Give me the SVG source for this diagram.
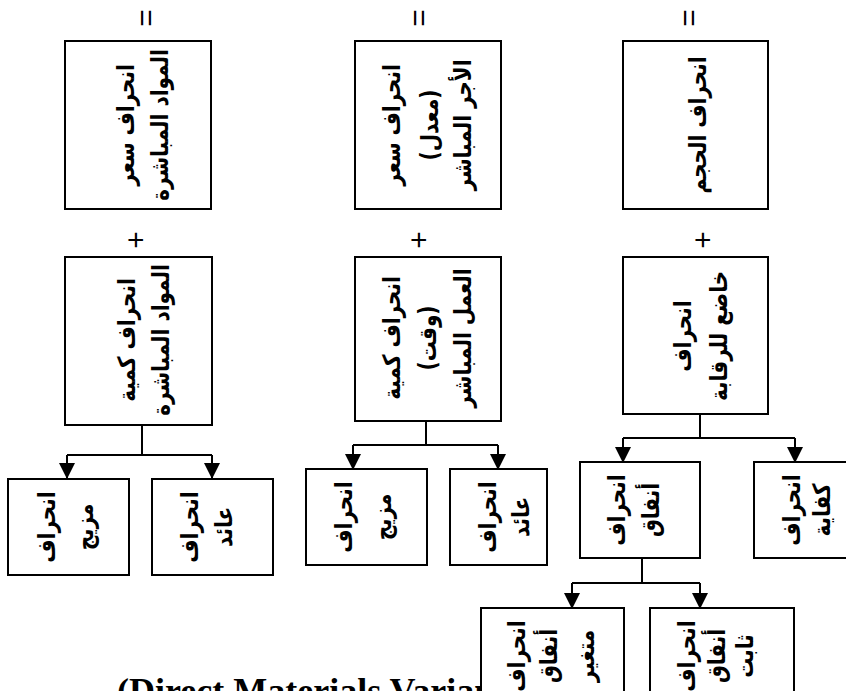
<svg xmlns="http://www.w3.org/2000/svg" width="846" height="691" viewBox="0 0 846 691">
  <style>
    .box { fill: #ffffff; stroke: #000000; stroke-width: 2; }
    .ar { font-family: "DejaVu Sans", sans-serif; font-weight: bold; font-size: 20px; text-anchor: middle; dominant-baseline: central; fill: #000000; }
    .op { font-family: "Liberation Sans", Arial, sans-serif; font-size: 30px; text-anchor: middle; dominant-baseline: central; fill: #000000; }
    .en { font-family: "Liberation Serif", "Times New Roman", serif; font-weight: bold; font-size: 36px; fill: #000000; }
    .conn { fill: none; stroke: #000000; stroke-width: 2; }
  </style>
  <defs>
    <marker id="arrow" markerUnits="userSpaceOnUse" markerWidth="16" markerHeight="16" viewBox="0 0 16 16" refX="8" refY="15" orient="0">
      <path d="M0,0 L16,0 L8,16 Z" fill="#000000"/>
    </marker>
  </defs>

  <rect width="846" height="691" fill="#ffffff"/>

  <!-- caption under the chart, partly covered by the lowest boxes -->
  <text class="en" x="117" y="703">(Direct Materials Variance)</text>

  <!-- equals / plus signs between rows -->
  <g id="operators">
    <text class="op" transform="translate(145,18) rotate(-90)">=</text>
    <text class="op" transform="translate(418,18) rotate(-90)">=</text>
    <text class="op" transform="translate(688,18) rotate(-90)">=</text>
    <text class="op" transform="translate(135,240) rotate(-90)">+</text>
    <text class="op" transform="translate(418,240) rotate(-90)">+</text>
    <text class="op" transform="translate(702,240) rotate(-90)">+</text>
  </g>

  <!-- connectors -->
  <g id="connectors">
    <path class="conn" d="M142,425 V455 M67,455 H212"/>
    <path class="conn" d="M67,455 V478" marker-end="url(#arrow)"/>
    <path class="conn" d="M212,455 V478" marker-end="url(#arrow)"/>

    <path class="conn" d="M426,421 V445 M353,445 H498"/>
    <path class="conn" d="M353,445 V469" marker-end="url(#arrow)"/>
    <path class="conn" d="M498,445 V469" marker-end="url(#arrow)"/>

    <path class="conn" d="M700,414 V438 M623,438 H795"/>
    <path class="conn" d="M623,438 V462" marker-end="url(#arrow)"/>
    <path class="conn" d="M795,438 V462" marker-end="url(#arrow)"/>

    <path class="conn" d="M642,558 V583 M572,583 H700"/>
    <path class="conn" d="M572,583 V608" marker-end="url(#arrow)"/>
    <path class="conn" d="M700,583 V608" marker-end="url(#arrow)"/>
  </g>

  <!-- row 1 -->
  <g id="price-materials">
    <rect class="box" x="65" y="41" width="146" height="168"/>
    <text class="ar" transform="translate(125,125) rotate(-90) scale(1,1.2)">انحراف سعر</text>
    <text class="ar" transform="translate(159,125) rotate(-90) scale(1,1.2)">المواد المباشرة</text>
  </g>
  <g id="price-labour">
    <rect class="box" x="355" y="41" width="146" height="168"/>
    <text class="ar" transform="translate(391,125) rotate(-90) scale(1,1.2)">انحراف سعر</text>
    <text class="ar" transform="translate(429,125) rotate(-90) scale(1,1.2)">(معدل)</text>
    <text class="ar" transform="translate(462,125) rotate(-90) scale(1,1.2)">الأجر المباشر</text>
  </g>
  <g id="volume">
    <rect class="box" x="623" y="41" width="145" height="168"/>
    <text class="ar" transform="translate(697,125) rotate(-90) scale(1,1.2)">انحراف الحجم</text>
  </g>

  <!-- row 2 -->
  <g id="quantity-materials">
    <rect class="box" x="65" y="257" width="147" height="168"/>
    <text class="ar" transform="translate(126,340) rotate(-90) scale(1,1.2)">انحراف كمية</text>
    <text class="ar" transform="translate(160,340) rotate(-90) scale(1,1.2)">المواد المباشرة</text>
  </g>
  <g id="quantity-labour">
    <rect class="box" x="355" y="257" width="146" height="164"/>
    <text class="ar" transform="translate(391,338) rotate(-90) scale(1,1.2)">انحراف كمية</text>
    <text class="ar" transform="translate(427,338) rotate(-90) scale(1,1.2)">(وقت)</text>
    <text class="ar" transform="translate(462,338) rotate(-90) scale(1,1.2)">العمل المباشر</text>
  </g>
  <g id="controllable">
    <rect class="box" x="623" y="257" width="145" height="157"/>
    <text class="ar" transform="translate(682,336) rotate(-90) scale(1,1.2)">انحراف</text>
    <text class="ar" transform="translate(718,336) rotate(-90) scale(1,1.2)">خاضع للرقابة</text>
  </g>

  <!-- row 3 -->
  <g id="mix-materials">
    <rect class="box" x="8" y="479" width="121" height="96"/>
    <text class="ar" transform="translate(46,527) rotate(-90) scale(1,1.2)">انحراف</text>
    <text class="ar" transform="translate(84,527) rotate(-90) scale(1,1.2)">مزيج</text>
  </g>
  <g id="yield-materials">
    <rect class="box" x="152" y="479" width="121" height="96"/>
    <text class="ar" transform="translate(189,527) rotate(-90) scale(1,1.2)">انحراف</text>
    <text class="ar" transform="translate(223,527) rotate(-90) scale(1,1.2)">عائد</text>
  </g>
  <g id="mix-labour">
    <rect class="box" x="306" y="469" width="121" height="96"/>
    <text class="ar" transform="translate(343,517) rotate(-90) scale(1,1.2)">انحراف</text>
    <text class="ar" transform="translate(382,517) rotate(-90) scale(1,1.2)">مزيج</text>
  </g>
  <g id="yield-labour">
    <rect class="box" x="450" y="469" width="97" height="96"/>
    <text class="ar" transform="translate(487,517) rotate(-90) scale(1,1.2)">انحراف</text>
    <text class="ar" transform="translate(520,517) rotate(-90) scale(1,1.2)">عائد</text>
  </g>
  <g id="spending">
    <rect class="box" x="580" y="462" width="120" height="96"/>
    <text class="ar" transform="translate(616,510) rotate(-90) scale(1,1.2)">انحراف</text>
    <text class="ar" transform="translate(650,510) rotate(-90) scale(1,1.2)">أنفاق</text>
  </g>
  <g id="efficiency">
    <rect class="box" x="754" y="462" width="121" height="96"/>
    <text class="ar" transform="translate(791,510) rotate(-90) scale(1,1.2)">انحراف</text>
    <text class="ar" transform="translate(821,510) rotate(-90) scale(1,1.2)">كفاية</text>
  </g>

  <!-- row 4 -->
  <g id="variable-spending">
    <rect class="box" x="481" y="608" width="143" height="96"/>
    <text class="ar" transform="translate(516,656) rotate(-90) scale(1,1.2)">انحراف</text>
    <text class="ar" transform="translate(548,656) rotate(-90) scale(1,1.2)">أنفاق</text>
    <text class="ar" transform="translate(585,656) rotate(-90) scale(1,1.2)">متغير</text>
  </g>
  <g id="fixed-spending">
    <rect class="box" x="650" y="608" width="144" height="96"/>
    <text class="ar" transform="translate(686,656) rotate(-90) scale(1,1.2)">انحراف</text>
    <text class="ar" transform="translate(716,656) rotate(-90) scale(1,1.2)">أنفاق</text>
    <text class="ar" transform="translate(744,656) rotate(-90) scale(1,1.2)">ثابت</text>
  </g>
</svg>
